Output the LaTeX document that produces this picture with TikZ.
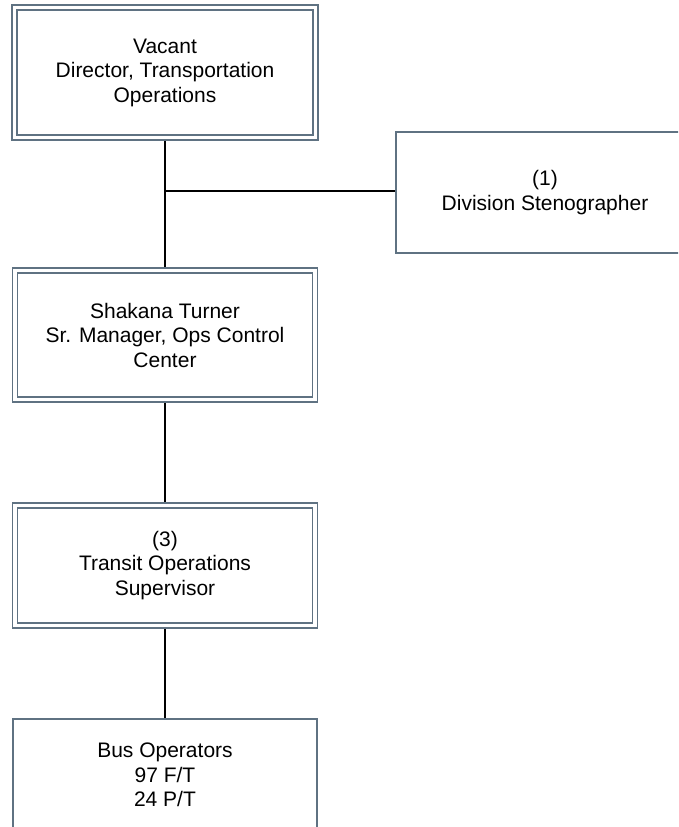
\documentclass[tikz,border=0pt]{standalone}
\usepackage{fontspec}
\setmainfont{Liberation Sans}
\definecolor{boxline}{HTML}{5F7282}
\begin{document}
\begin{tikzpicture}[x=1pt,y=-1pt,
  every node/.style={font=\fontsize{21}{24.5}\selectfont, align=center, inner sep=0pt},
  dblbox/.style={draw=boxline, line width=1.5pt, double=white, double distance=3.5pt, outer sep=3.25pt},
  sglbox/.style={draw=boxline, line width=2pt, outer sep=1pt},
  conn/.style={draw=black, line width=2pt}]
\useasboundingbox (0,0) rectangle (678,827);
\clip (0,0) rectangle (678,827);
\fill[white] (0,0) rectangle (678,827);
\node[dblbox, minimum width=301pt, minimum height=130pt] (dir) at (165,72.5) {Vacant\\Director, Transportation\\Operations};
\node[sglbox, minimum width=298pt, minimum height=121pt] (steno) at (545,192.5) {(1)\\Division Stenographer};
\node[dblbox, minimum width=300pt, minimum height=129pt] (mgr) at (165,335) {Shakana Turner\\Sr. Manager, Ops Control\\Center};
\node[dblbox, minimum width=300pt, minimum height=120pt] (sup) at (165,565.5) {(3)\\Transit Operations\\Supervisor};
\node[sglbox, minimum width=304pt, minimum height=112pt] (bus) at (165,775) {Bus Operators\\97 F/T\\24 P/T};
\coordinate (j) at (165,191);
\draw[conn] (dir.south) -- (mgr.north);
\draw[conn] (j) -- (j -| steno.west);
\draw[conn] (mgr.south) -- (sup.north);
\draw[conn] (sup.south) -- (bus.north);
\end{tikzpicture}
\end{document}
